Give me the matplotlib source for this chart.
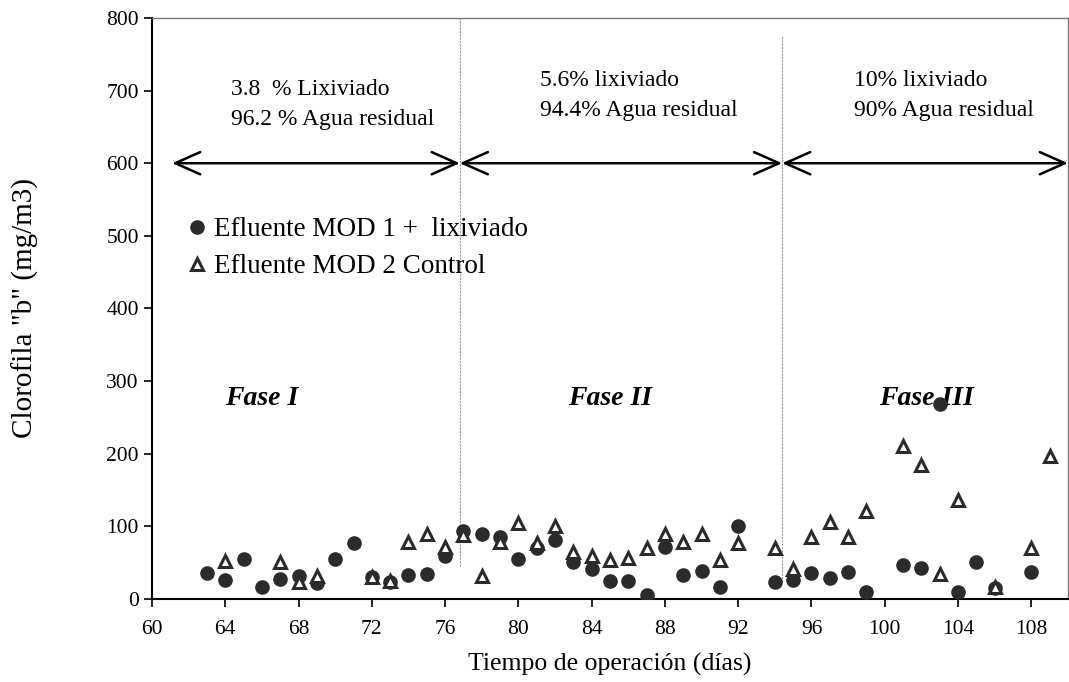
import numpy as np
import matplotlib.pyplot as plt

plt.rcParams['font.family'] = ['Liberation Serif', 'DejaVu Serif']

# Efluente MOD 1 + lixiviado (circles)
dias_mod1 = [63, 64, 65, 66, 67, 68, 69, 70, 71, 72, 73, 74, 75, 76,
             77, 78, 79, 80, 81, 82, 83, 84, 85, 86, 87, 88, 89, 90, 91, 92,
             94, 95, 96, 97, 98, 99, 101, 102, 103, 104, 105, 106, 108]
clorofila_mod1 = [36, 26, 55, 16, 27, 31, 22, 55, 77, 30, 24, 33, 34, 59,
                  94, 89, 85, 55, 70, 81, 51, 41, 25, 25, 5, 71, 33, 39, 16, 101,
                  23, 26, 36, 29, 37, 9, 47, 42, 268, 10, 51, 15, 37]

# Efluente MOD 2 Control (triangles)
dias_mod2 = [64, 67, 68, 69, 72, 73, 74, 75, 76,
             77, 78, 79, 80, 81, 82, 83, 84, 85, 86, 87, 88, 89, 90, 91, 92,
             94, 95, 96, 97, 98, 99, 101, 102, 103, 104, 106, 108, 109]
clorofila_mod2 = [52, 51, 24, 32, 30, 25, 78, 89, 72,
                  88, 31, 79, 104, 77, 100, 65, 59, 54, 57, 70, 89, 79, 89, 54, 77,
                  70, 41, 85, 106, 86, 121, 210, 185, 34, 136, 17, 70, 197]

# phase boundaries (days) and annotations
limites_fase = [61.1, 76.8, 94.4, 110]
fases = ['Fase I', 'Fase II', 'Fase III']
fase_x = [66.0, 85.0, 102.3]
textos_fase = [('3.8  % Lixiviado', '96.2 % Agua residual'),
               ('5.6% lixiviado', '94.4% Agua residual'),
               ('10% lixiviado', '90% Agua residual')]
texto_x = [64.3, 81.2, 98.3]
texto_y = [(702, 660), (714, 673), (714, 673)]
div_y = [(45, 800), (24, 775)]

fig = plt.figure(figsize=(10.69, 6.82), dpi=100)
ax = fig.add_axes([0.1422, 0.1217, 0.8568, 0.852])

col = '#2b2b2b'
ax.plot(dias_mod1, clorofila_mod1, 'o', color=col, markersize=9.5,
        linestyle='none', label='Efluente MOD 1 +  lixiviado', zorder=4)
ax.plot(dias_mod2, clorofila_mod2, '^', markerfacecolor='white', markeredgecolor=col,
        markeredgewidth=2.2, markersize=8, linestyle='none',
        label='Efluente MOD 2 Control', zorder=5)

# dashed phase dividers
for xd, (y0, y1) in zip(limites_fase[1:3], div_y):
    ax.plot([xd, xd], [y0, y1], color='#999999', linestyle=(0, (2, 1)), linewidth=0.8, zorder=1)

# arrows at 600
for a, b in zip(limites_fase[:-1], limites_fase[1:]):
    ax.annotate('', xy=(b, 600), xytext=(a, 600),
                arrowprops=dict(arrowstyle='<->,head_length=1.8,head_width=0.8',
                                color='black', linewidth=1.8, shrinkA=0, shrinkB=0,
                                mutation_scale=10),
                annotation_clip=False)

for f, xf in zip(fases, fase_x):
    ax.text(xf, 276, f, fontsize=20, fontweight='bold', fontstyle='italic',
            ha='center', va='center', zorder=2)

for (t1, t2), xt, (y1, y2) in zip(textos_fase, texto_x, texto_y):
    ax.text(xt, y1, t1, fontsize=17, ha='left', va='center')
    ax.text(xt, y2, t2, fontsize=17, ha='left', va='center')

ax.set_xlim(60, 110)
ax.set_ylim(0, 800)
ax.set_xticks(np.arange(60, 109, 4))
ax.set_yticks(np.arange(0, 801, 100))
ax.tick_params(axis='both', labelsize=15.5, direction='out', length=6, width=1.2)
ax.tick_params(axis='x', pad=9)

for s in ['left', 'bottom']:
    ax.spines[s].set_linewidth(1.5)
for s in ['top', 'right']:
    ax.spines[s].set_color('#777777')
    ax.spines[s].set_linewidth(1)

ax.set_xlabel('Tiempo de operación (días)', fontsize=18.5)
ax.xaxis.set_label_coords(0.5, -0.092)
ax.set_ylabel('Clorofila "b" (mg/m3)', fontsize=21)
ax.yaxis.set_label_coords(-0.123, 0.5)

leg = ax.legend(loc='upper left', bbox_to_anchor=(0.02, 0.69), frameon=False,
                fontsize=19.5, handlelength=0.6, handletextpad=0.3, labelspacing=0.45,
                borderpad=0.2)

fig.savefig('out.png', dpi=100)
